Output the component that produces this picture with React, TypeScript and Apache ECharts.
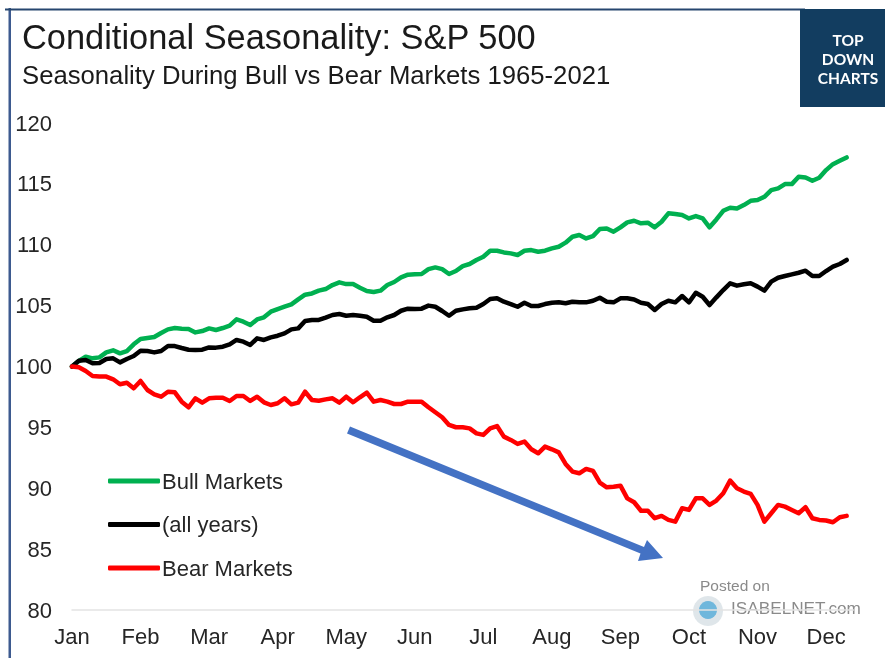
import React, { useEffect, useRef } from "react";
import * as echarts from "echarts";

const months = ["Jan", "Feb", "Mar", "Apr", "May", "Jun", "Jul", "Aug", "Sep", "Oct", "Nov", "Dec"];
// One reading every tenth of a month, starting at January.
const bull = [100,100.45,100.8,100.67,100.75,101.16,101.33,101.08,101.27,101.82,102.26,102.34,102.42,102.75,103.05,103.16,103.1,103.08,102.8,102.91,103.13,103,103.16,103.35,103.87,103.68,103.41,103.87,104.04,104.5,104.72,104.91,105.1,105.51,105.9,106,106.23,106.36,106.69,106.91,106.77,106.77,106.47,106.2,106.12,106.23,106.69,106.94,107.32,107.54,107.57,107.6,108,108.14,108,107.6,107.84,108.25,108.42,108.75,109.02,109.51,109.51,109.37,109.29,109.16,109.51,109.56,109.43,109.51,109.7,109.84,110.17,110.66,110.8,110.52,110.71,111.29,111.34,111.07,111.43,111.84,111.97,111.76,111.81,111.43,111.89,112.58,112.52,112.44,112.16,112.36,112.16,111.43,112.08,112.79,113.04,112.98,113.26,113.61,113.67,113.94,114.49,114.63,114.98,114.98,115.59,115.53,115.26,115.5,116.13,116.62,116.9,117.17];
const allYears = [100,100.48,100.53,100.26,100.29,100.62,100.67,100.34,100.62,100.86,101.3,101.27,101.16,101.27,101.68,101.68,101.52,101.38,101.35,101.38,101.57,101.55,101.63,101.82,102.18,102.04,101.77,102.31,102.18,102.39,102.53,102.72,103.05,103.13,103.74,103.82,103.82,104.01,104.23,104.31,104.17,104.23,104.17,104.09,103.76,103.76,104.04,104.23,104.58,104.75,104.72,104.75,105,104.91,104.56,104.17,104.58,104.69,104.78,104.83,105.13,105.54,105.6,105.32,105.13,104.91,105.24,104.97,104.97,105.13,105.24,105.27,105.19,105.32,105.27,105.27,105.4,105.65,105.32,105.27,105.6,105.6,105.51,105.24,105.13,104.64,105.13,105.4,105.27,105.79,105.27,106.06,105.73,105.05,105.68,106.28,106.83,106.64,106.75,106.83,106.56,106.23,106.97,107.29,107.43,107.57,107.7,107.87,107.43,107.43,107.84,108.2,108.42,108.75];
const bear = [100,99.93,99.63,99.22,99.17,99.17,98.95,98.54,98.67,98.21,98.81,98.07,97.71,97.52,97.93,97.88,97.11,96.65,97.39,97.03,97.39,97.44,97.44,97.17,97.58,97.58,97.17,97.52,97.06,96.84,96.98,97.39,96.89,97.03,97.93,97.25,97.19,97.3,97.39,97.03,97.52,97.06,97.47,97.85,97.11,97.25,97.11,96.92,96.92,97.11,97.11,97.11,96.65,96.24,95.83,95.2,95.01,95.01,94.92,94.51,94.38,94.92,95.11,94.24,93.97,93.64,93.83,93.2,92.87,93.42,93.2,92.95,92,91.37,91.23,91.59,91.42,90.46,90.08,90.13,90.21,89.17,88.85,88.15,88.16,87.54,87.73,87.4,87.26,88.36,88.22,89.17,89.17,88.63,88.99,89.59,90.63,90,89.73,89.54,88.63,87.26,87.95,88.63,88.49,88.22,87.95,88.44,87.54,87.4,87.35,87.21,87.62,87.73];

const seriesNames = ["Bull Markets", "(all years)", "Bear Markets"];
const seriesColors = ["#00B050", "#000000", "#FF0000"];
const seriesValues = [bull, allYears, bear];

const FONT = "'Liberation Sans', Arial, sans-serif";
const INK = "#262626";

export default function App() {
  const ref = useRef<HTMLDivElement>(null);
  useEffect(() => {
    if (!ref.current) return;
    const chart = echarts.init(ref.current, undefined, { renderer: "svg" });
    chart.setOption({
      animation: false,
      backgroundColor: "#ffffff",
      textStyle: { fontFamily: FONT },
      title: [
        { text: "Conditional Seasonality: S&P 500", left: 22, top: 20, padding: 0, textStyle: { fontFamily: FONT, fontSize: 34.4, fontWeight: "normal", color: "#1a1a1a" } },
        { text: "Seasonality During Bull vs Bear Markets 1965-2021", left: 22, top: 62, padding: 0, textStyle: { fontFamily: FONT, fontSize: 25.7, fontWeight: "normal", color: "#1a1a1a" } },
      ],
      grid: { left: 72, right: 31.5, top: 123, bottom: 48 },
      legend: {
        orient: "vertical", left: 108, top: 470, padding: 0, itemWidth: 52, itemHeight: 5, itemGap: 21.5,
        icon: "roundRect", selectedMode: false,
        textStyle: { fontFamily: FONT, fontSize: 22, color: INK, padding: [0, 0, 0, -3] },
        data: seriesNames,
      },
      xAxis: {
        type: "value", min: 0, max: 11.4, interval: 1,
        axisLine: { show: true, lineStyle: { color: "#e3e3e3", width: 1.5 } },
        axisTick: { show: false }, splitLine: { show: false },
        axisLabel: { margin: 15, fontFamily: FONT, fontSize: 22, color: INK, showMaxLabel: false, formatter: (v: number) => months[v] ?? "" },
      },
      yAxis: {
        type: "value", min: 80, max: 120, interval: 5,
        axisLine: { show: false }, axisTick: { show: false }, splitLine: { show: false },
        axisLabel: { margin: 20, fontFamily: FONT, fontSize: 22, color: INK },
      },
      series: seriesNames.map((name, s) => ({
        name, type: "line", showSymbol: false, symbol: "none", smooth: false,
        color: seriesColors[s],
        lineStyle: { color: seriesColors[s], width: 4.5, cap: "round", join: "round" },
        itemStyle: { color: seriesColors[s] },
        data: seriesValues[s].map((v, i) => [i / 10, v]),
      })),
      graphic: [
        { type: "rect", shape: { x: 8.5, y: 8, width: 2.5, height: 650 }, style: { fill: "#3d5a8f" } },
        { type: "rect", shape: { x: 5, y: 8.5, width: 800, height: 2 }, style: { fill: "#26466f" } },
        { type: "rect", shape: { x: 800, y: 9, width: 85, height: 98 }, style: { fill: "#123d60" } },
        { type: "text", x: 848, y: 40, style: { text: "TOP", fill: "#fff", font: "700 15.5px Lato", textAlign: "center", textVerticalAlign: "middle" } },
        { type: "text", x: 848, y: 59, style: { text: "DOWN", fill: "#fff", font: "700 15.5px Lato", textAlign: "center", textVerticalAlign: "middle" } },
        { type: "text", x: 848, y: 78, style: { text: "CHARTS", fill: "#fff", font: "700 15.5px Lato", textAlign: "center", textVerticalAlign: "middle" } },
        { type: "polygon", shape: { points: [[350, 426.5], [347, 433.5], [640.5, 553.5], [638, 561], [663, 558], [647, 540], [644, 547]] }, style: { fill: "#4472C4" } },
        { type: "text", x: 700, y: 585, style: { text: "Posted on", fill: "#8a8a8a", font: `15.5px ${FONT}`, textAlign: "left", textVerticalAlign: "middle" } },
        { type: "circle", shape: { cx: 708, cy: 611, r: 15 }, style: { fill: "#dfe6ea" } },
        { type: "circle", shape: { cx: 708, cy: 610, r: 9 }, style: { fill: "#6fb7dc" } },
        { type: "text", x: 731, y: 608, style: { text: "ISABELNET.com", fill: "#8a8a8a", font: `17.2px ${FONT}`, textAlign: "left", textVerticalAlign: "middle" } },
      ],
    });
    return () => chart.dispose();
  }, []);
  return <div ref={ref} style={{ position: "absolute", left: 0, top: 0, width: 885, height: 658, filter: "blur(0.4px)" }} />;
}
